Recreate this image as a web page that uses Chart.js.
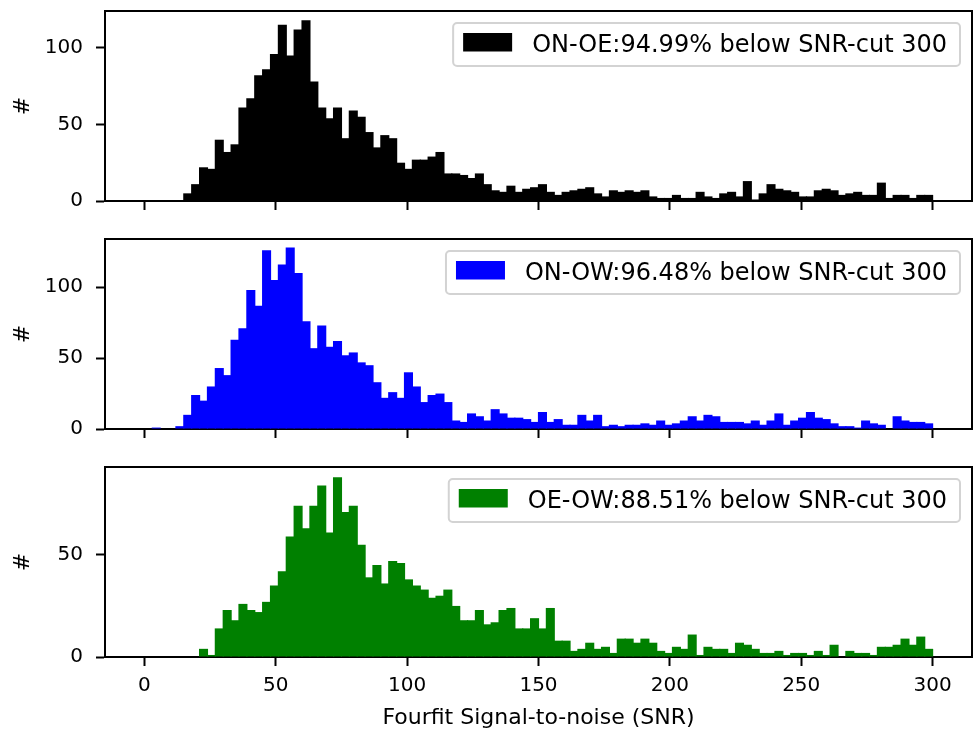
<!DOCTYPE html>
<html>
<head>
<meta charset="utf-8">
<title>SNR histograms</title>
<script src="https://cdn.jsdelivr.net/npm/chart.js@4.4.0/dist/chart.umd.min.js"></script>
<style>
  html, body { margin: 0; padding: 0; background: #fff; }
  body { width: 974px; height: 731px; position: relative; overflow: hidden; }
  .panel { position: absolute; left: 0; }
</style>
</head>
<body>
<canvas id="chartOnOe" class="panel" width="974" height="215" style="top:0px"></canvas>
<canvas id="chartOnOw" class="panel" width="974" height="215" style="top:228px"></canvas>
<canvas id="chartOeOw" class="panel" width="974" height="275" style="top:456px"></canvas>
<script>
// histogram bins: 100 bins of width 3 from 0 to 300
const binStart = 0;
const binWidth = 3;
const xTicks = [0, 50, 100, 150, 200, 250, 300];
const xRange = [-15, 315];
const xTitle = 'Fourfit Signal-to-noise (SNR)';
const yTitle = '#';

const onOeLabel = 'ON-OE:94.99% below SNR-cut 300';
const onOeCounts = [
    0, 0, 0, 0, 0, 5, 11, 22, 21, 40,
    32, 37, 61, 67, 82, 86, 96, 115, 95, 112,
    118, 78, 61, 54, 61, 41, 59, 55, 45, 35,
    43, 41, 25, 21, 27, 27, 29, 32, 18, 18,
    17, 15, 18, 11, 7, 6, 10, 6, 8, 9,
    11, 6, 4, 6, 7, 8, 9, 5, 3, 7,
    6, 7, 6, 7, 3, 2, 2, 4, 2, 2,
    6, 3, 2, 5, 6, 3, 13, 1, 5, 11,
    8, 7, 6, 3, 3, 7, 8, 7, 4, 5,
    6, 4, 4, 12, 2, 4, 4, 2, 4, 4
];
const onOeYTicks = [0, 50, 100];
const onOeYMax = 124;

const onOwLabel = 'ON-OW:96.48% below SNR-cut 300';
const onOwCounts = [
    0, 1, 0, 0, 2, 10, 24, 20, 30, 43,
    38, 63, 71, 98, 87, 126, 105, 116, 128, 110,
    76, 57, 73, 58, 62, 52, 54, 47, 45, 33,
    22, 26, 22, 40, 30, 19, 24, 25, 19, 6,
    5, 11, 9, 6, 14, 11, 8, 8, 7, 5,
    12, 5, 7, 3, 3, 10, 6, 10, 2, 3,
    2, 3, 3, 4, 3, 6, 3, 4, 6, 9,
    6, 10, 9, 5, 5, 5, 4, 6, 3, 6,
    11, 3, 6, 8, 12, 8, 7, 4, 2, 2,
    1, 6, 4, 3, 0, 9, 6, 5, 5, 4
];
const onOwYTicks = [0, 50, 100];
const onOwYMax = 134;

const oeOwLabel = 'OE-OW:88.51% below SNR-cut 300';
const oeOwCounts = [
    0, 0, 0, 0, 0, 0, 0, 4, 1, 14,
    23, 18, 26, 23, 22, 27, 35, 42, 59, 74,
    63, 74, 84, 61, 88, 71, 74, 55, 39, 45,
    36, 47, 46, 38, 35, 33, 29, 30, 33, 25,
    18, 18, 23, 16, 17, 23, 24, 14, 14, 19,
    14, 24, 8, 8, 3, 4, 7, 4, 5, 2,
    9, 9, 7, 9, 7, 3, 2, 5, 4, 11,
    1, 5, 4, 4, 2, 7, 6, 4, 2, 2,
    3, 1, 2, 2, 1, 3, 1, 6, 0, 3,
    2, 2, 1, 5, 5, 6, 9, 6, 10, 4
];
const oeOwYTicks = [0, 50];
const oeOwYMax = 93;

const fontFamily = '"DejaVu Sans", sans-serif';
Chart.defaults.font.family = fontFamily;
Chart.defaults.font.size = 20;
Chart.defaults.color = '#000';

// top and right spines (left/bottom come from the axis borders)
const frameLines = {
    id: 'frameLines',
    afterDraw(chart) {
        const { ctx, chartArea: a } = chart;
        ctx.save();
        ctx.strokeStyle = '#000';
        ctx.lineWidth = 2;
        ctx.lineCap = 'square';
        ctx.beginPath();
        ctx.moveTo(a.left, a.top);
        ctx.lineTo(a.right, a.top);
        ctx.lineTo(a.right, a.bottom);
        ctx.stroke();
        ctx.restore();
    }
};

// matplotlib-like framed legend in the upper right corner
const legendBox = {
    id: 'legendBox',
    afterDraw(chart) {
        const { ctx, chartArea: a } = chart;
        const ds = chart.data.datasets[0];
        ctx.save();
        ctx.font = '24px ' + fontFamily;
        const textW = ctx.measureText(ds.label).width;
        const h = 43;
        const w = 10 + 49 + 20 + textW + 13;
        const right = a.right - 12;
        const top = a.top + 12;
        const left = right - w;
        ctx.beginPath();
        if (ctx.roundRect) {
            ctx.roundRect(left, top, w, h, 4);
        } else {
            ctx.rect(left, top, w, h);
        }
        ctx.fillStyle = 'rgba(255,255,255,0.8)';
        ctx.fill();
        ctx.lineWidth = 2;
        ctx.strokeStyle = '#d3d3d3';
        ctx.stroke();
        ctx.fillStyle = ds.backgroundColor;
        ctx.fillRect(left + 10, top + 10, 49, 18.5);
        ctx.fillStyle = '#000';
        ctx.textBaseline = 'alphabetic';
        ctx.textAlign = 'left';
        ctx.fillText(ds.label, left + 10 + 49 + 20, top + 29);
        ctx.restore();
    }
};

function noPadding(s) {
    s.paddingTop = 0;
    s.paddingBottom = 0;
    s.paddingLeft = 0;
    s.paddingRight = 0;
}

function makePanel(canvasId, label, color, counts, yMax, yTicks, isBottom) {
    const points = counts.map((c, i) => ({ x: binStart + binWidth * (i + 0.5), y: c }));
    const axisGrid = {
        display: true,
        drawOnChartArea: false,
        drawTicks: true,
        tickLength: 9,
        tickWidth: 2,
        tickColor: '#000',
        offset: false
    };
    const axisBorder = { display: true, color: '#000', width: 2 };

    return new Chart(document.getElementById(canvasId), {
        type: 'bar',
        data: {
            datasets: [{
                label: label,
                data: points,
                backgroundColor: color,
                borderWidth: 0,
                inflateAmount: 0,
                barPercentage: 1.15,   // slight overlap hides antialias seams
                categoryPercentage: 1
            }]
        },
        options: {
            responsive: false,
            animation: false,
            events: [],
            layout: { padding: { top: 11, right: 2, left: 0, bottom: 0 } },
            plugins: {
                legend: { display: false },
                tooltip: { enabled: false }
            },
            scales: {
                x: {
                    type: 'linear',
                    min: xRange[0],
                    max: xRange[1],
                    offset: false,
                    z: 1,
                    afterBuildTicks: s => { s.ticks = xTicks.map(v => ({ value: v })); },
                    afterFit: s => { s.height = isBottom ? 74 : 14; noPadding(s); },
                    ticks: { display: isBottom, padding: 8, maxRotation: 0, autoSkip: false, color: '#000' },
                    grid: axisGrid,
                    border: axisBorder,
                    title: {
                        display: isBottom,
                        text: xTitle,
                        color: '#000',
                        font: { size: 22 },
                        padding: { top: 0, bottom: 0 }
                    }
                },
                y: {
                    min: 0,
                    max: yMax,
                    z: 1,
                    afterBuildTicks: s => { s.ticks = yTicks.map(v => ({ value: v })); },
                    afterFit: s => { s.width = 105; noPadding(s); },
                    ticks: { padding: 13, color: '#000' },
                    grid: axisGrid,
                    border: axisBorder,
                    title: {
                        display: true,
                        text: yTitle,
                        color: '#000',
                        font: { size: 22 },
                        padding: { top: 10, bottom: 0 }
                    }
                }
            }
        },
        plugins: [frameLines, legendBox]
    });
}

makePanel('chartOnOe', onOeLabel, '#000000', onOeCounts, onOeYMax, onOeYTicks, false);
makePanel('chartOnOw', onOwLabel, '#0000ff', onOwCounts, onOwYMax, onOwYTicks, false);
makePanel('chartOeOw', oeOwLabel, '#008000', oeOwCounts, oeOwYMax, oeOwYTicks, true);
</script>
</body>
</html>
